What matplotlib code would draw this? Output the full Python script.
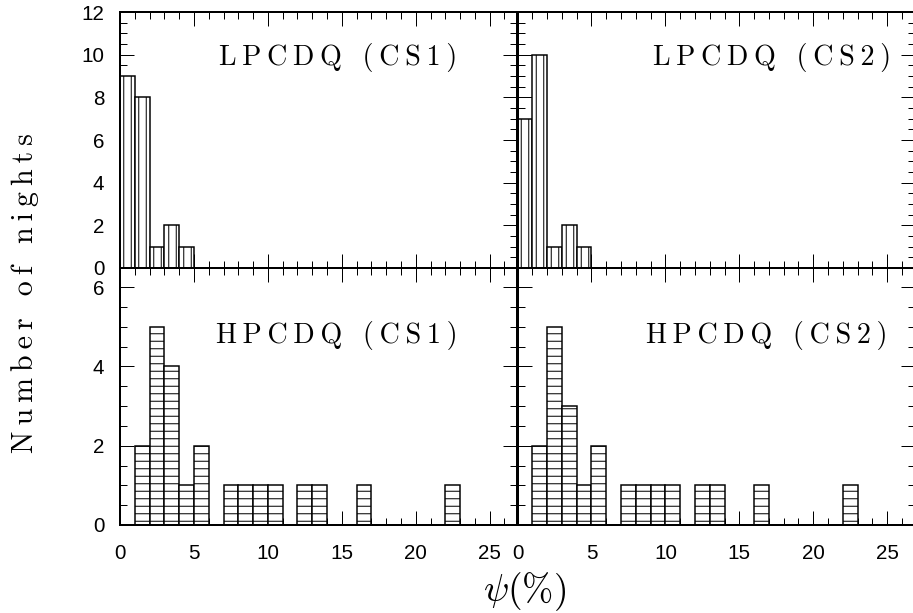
import matplotlib
matplotlib.use('Agg')
import matplotlib.pyplot as plt
from matplotlib.ticker import MultipleLocator, NullFormatter

# ---------------- data ----------------
lp_left = [0, 1, 2, 3, 4]                 # bin left edges (psi, %)
lp_cs1 = [9, 8, 1, 2, 1]
lp_cs2 = [7, 10, 1, 2, 1]
hp_left = [1, 2, 3, 4, 5, 7, 8, 9, 10, 12, 13, 16, 22]
hp_cs1 = [2, 5, 4, 1, 2, 1, 1, 1, 1, 1, 1, 1, 1]
hp_cs2 = [2, 5, 3, 1, 2, 1, 1, 1, 1, 1, 1, 1, 1]
bin_width = 1
panel_labels = ["LPCDQ (CS1)", "LPCDQ (CS2)", "HPCDQ (CS1)", "HPCDQ (CS2)"]
x_ticks = [0, 5, 10, 15, 20, 25]
y_ticks_top = [0, 2, 4, 6, 8, 10, 12]
y_ticks_bot = [0, 2, 4, 6]
x_label = r"$\psi(\%)$"
y_label = "Number of nights"

# ---------------- style ----------------
DPI = 90
W, H = 913, 613
plt.rcParams['font.family'] = ['Liberation Sans', 'DejaVu Sans']
plt.rcParams['mathtext.fontset'] = 'cm'
plt.rcParams['hatch.linewidth'] = 0.8
plt.rcParams['hatch.color'] = 'black'
SERIF = ['cmr10', 'DejaVu Serif']
TS = '\u2009'


def spaced(s):
    return TS.join(s)


fig = plt.figure(figsize=(W / DPI, H / DPI), dpi=DPI)

ax_w = 397 / W
left_l = 120 / W
left_r = 517.5 / W
top_b = (H - 268) / H
top_h = 256 / H
bot_b = (H - 525) / H
bot_h = 257 / H

axes = {
    'tl': fig.add_axes([left_l, top_b, ax_w, top_h]),
    'tr': fig.add_axes([left_r, top_b, ax_w, top_h]),
    'bl': fig.add_axes([left_l, bot_b, ax_w, bot_h]),
    'br': fig.add_axes([left_r, bot_b, ax_w, bot_h]),
}

specs = [
    ('tl', lp_left, lp_cs1, '||', panel_labels[0], 0.549, 0.793),
    ('tr', lp_left, lp_cs2, '||', panel_labels[1], 0.640, 0.793),
    ('bl', hp_left, hp_cs1, '--', panel_labels[2], 0.545, 0.709),
    ('br', hp_left, hp_cs2, '--', panel_labels[3], 0.627, 0.709),
]

for key, lefts, counts, hatch, label, tx, ty in specs:
    ax = axes[key]
    ax.bar(lefts, counts, width=bin_width, align='edge', color='white',
           edgecolor='black', linewidth=1.2, hatch=hatch, zorder=2)
    ax.set_xlim(0, 26.85)
    top = key.startswith('t')
    if top:
        ax.set_ylim(0, 12)
        ax.set_yticks(y_ticks_top)
    else:
        ax.set_ylim(0, 6.48)
        ax.set_yticks(y_ticks_bot)
    ax.yaxis.set_minor_locator(MultipleLocator(0.5))
    ax.set_xticks(x_ticks)
    ax.xaxis.set_minor_locator(MultipleLocator(1))
    ax.tick_params(which='both', direction='in', top=True, right=True,
                   width=0.8, colors='black', zorder=3, labelsize=16.5)
    ax.tick_params(which='major', length=11)
    ax.tick_params(which='minor', length=5.5)
    ax.tick_params(axis='y', which='major', pad=12.5)
    ax.tick_params(axis='x', which='major', pad=15)
    for sp in ax.spines.values():
        sp.set_linewidth(1.6)
        sp.set_zorder(4)
    if top:
        ax.xaxis.set_major_formatter(NullFormatter())
    if key.endswith('r'):
        ax.yaxis.set_major_formatter(NullFormatter())
    ax.text(tx, ty, spaced(label), transform=ax.transAxes, ha='center',
            va='baseline', fontsize=22.5, family=SERIF, zorder=5)

fig.text(525 / W, 1 - 592 / H, x_label, ha='center', va='center', fontsize=30)
fig.text(25 / W, 1 - 293 / H, spaced(y_label), ha='center', va='center',
         rotation=90, fontsize=24, family=SERIF)

fig.savefig('out.png', dpi=DPI)
